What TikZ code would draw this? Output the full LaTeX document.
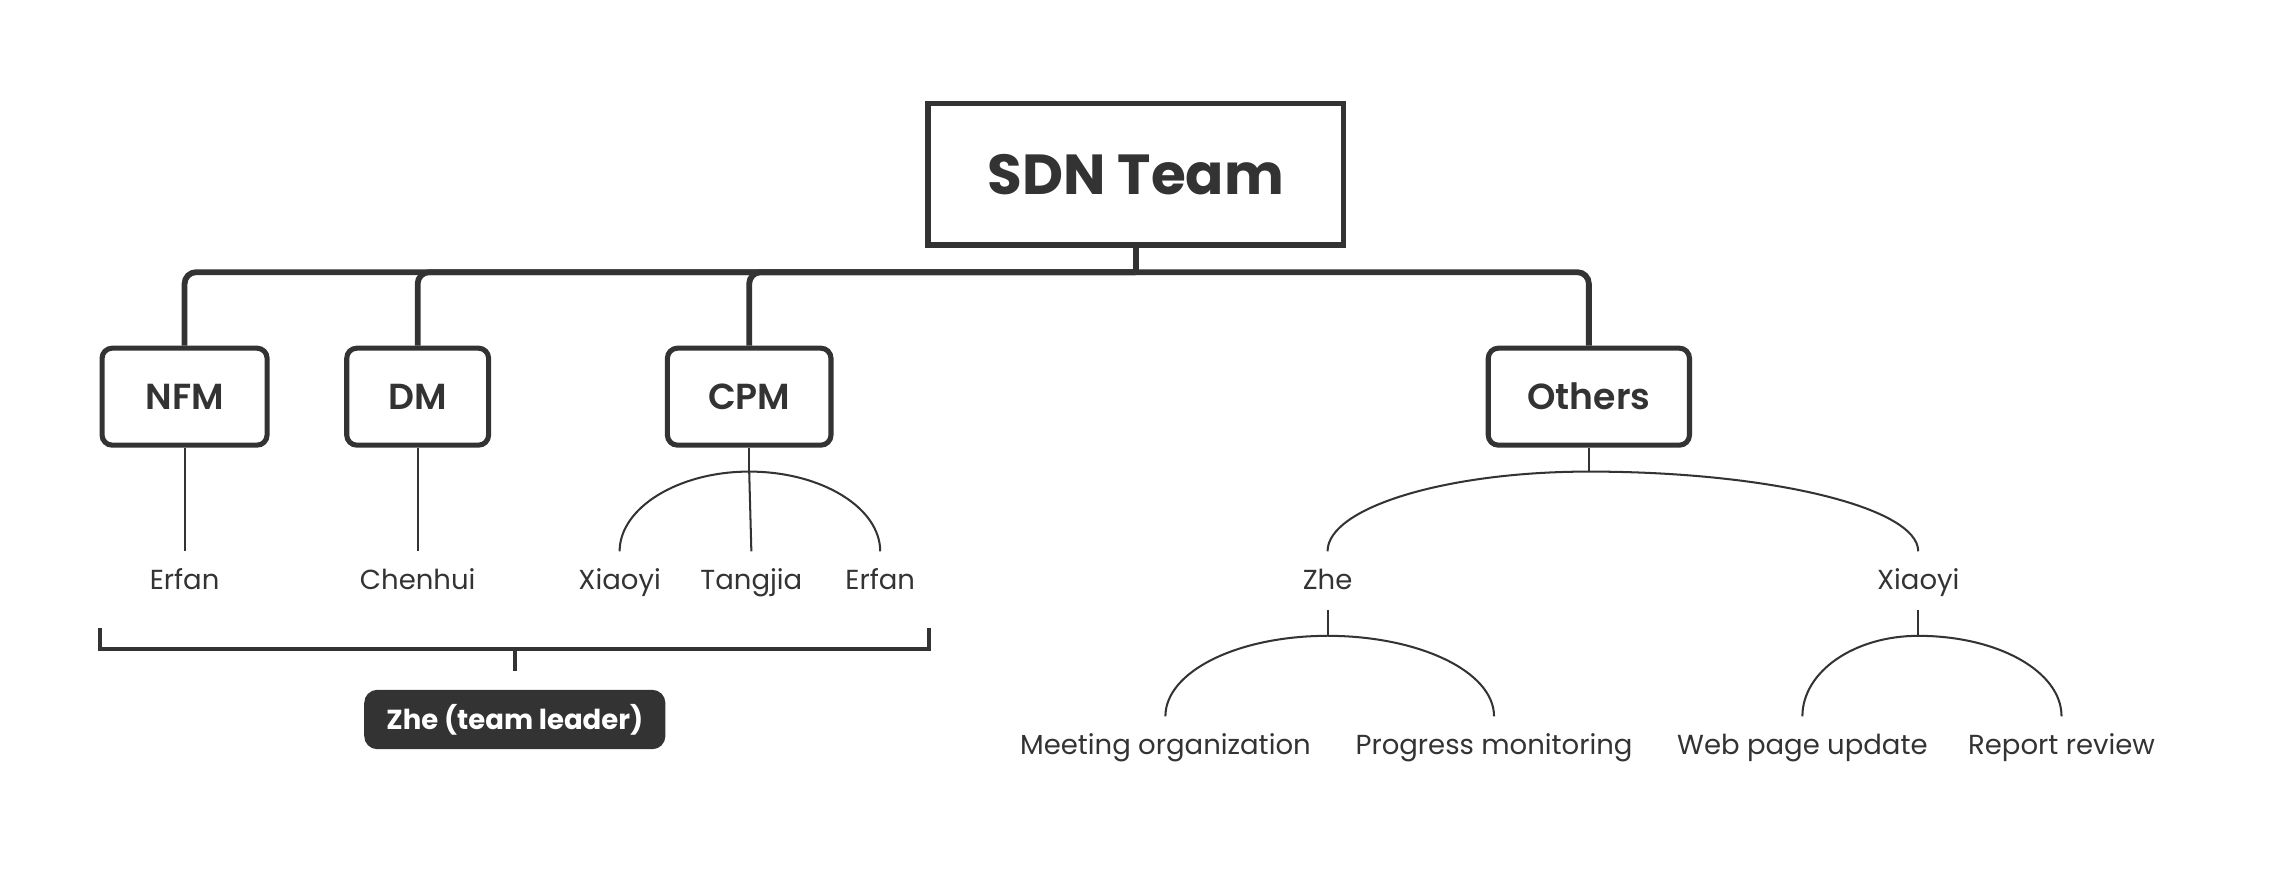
\documentclass[tikz,border=0pt]{standalone}
\usepackage{fontspec}
\setmainfont{Poppins}
\newfontfamily\boxfont{Poppins SemiBold}
\newfontfamily\headfont{Poppins Bold}
\usepackage{tikz}
\definecolor{ink}{HTML}{333333}
\tikzstyle{root} = [draw=ink,line width=4pt,minimum width=287pt,minimum height=98pt,text=ink,font=\headfont\fontsize{39}{39}\selectfont]
\tikzstyle{group} = [draw=ink,line width=3.5pt,rounded corners=7pt,minimum height=67pt,text=ink,font=\boxfont\fontsize{25}{25}\selectfont]
\tikzstyle{member} = [inner sep=0pt,text height=26pt,text depth=14pt,text=ink,font=\fontsize{19}{19}\selectfont,anchor=base]
\tikzstyle{leader} = [fill=ink,rounded corners=9pt,minimum width=208pt,minimum height=41pt,text=white,font=\headfont\fontsize{19}{19}\selectfont]
\tikzstyle{bus} = [draw=ink,line width=4pt,rounded corners=8pt]
\tikzstyle{link} = [draw=ink,line width=1.4pt]
\tikzstyle{bracket} = [draw=ink,line width=2.8pt]

\begin{document}
\begin{tikzpicture}[x=1pt,y=-1pt]
	\useasboundingbox (0,0) rectangle (1568,603.7);

	%Nodes
	\node[root] (team) at (784.5,120.5) {SDN Team};
	\node[group,minimum width=114pt] (nfm) at (127.5,274) {NFM};
	\node[group,minimum width=98pt] (dm) at (288.5,274) {DM};
	\node[group,minimum width=113pt] (cpm) at (517.5,274) {CPM};
	\node[group,minimum width=139pt] (others) at (1097.5,274) {Others};

	\node[member] (erfanA) at (127.5,407) {Erfan};
	\node[member] (chenhui) at (288.5,407) {Chenhui};
	\node[member] (xiaoyiA) at (428,407) {Xiaoyi};
	\node[member] (tangjia) at (519,407) {Tangjia};
	\node[member] (erfanB) at (608,407) {Erfan};
	\node[member] (zhe) at (917,407) {Zhe};
	\node[member] (xiaoyiB) at (1325,407) {Xiaoyi};
	\node[member] (meeting) at (805,521) {Meeting organization};
	\node[member] (progress) at (1032,521) {Progress monitoring};
	\node[member] (webpage) at (1245,521) {Web page update};
	\node[member] (report) at (1424,521) {Report review};

	\node[leader] (lead) at (355.6,497) {Zhe (team leader)};

	%Lines
	\coordinate (split) at (784.5,188);
	\draw[bus] (team.south) -- (split);
	\draw[bus] (split) -| (nfm.north);
	\draw[bus] (split) -| (dm.north);
	\draw[bus] (split) -| (cpm.north);
	\draw[bus] (split) -| (others.north);

	\draw[link] (nfm.south) -- (erfanA.north);
	\draw[link] (dm.south) -- (chenhui.north);

	\draw[link] (cpm.south) -- ++(0,16.5) coordinate (cpmsplit);
	\draw[link] (cpmsplit) .. controls +(-49,0) and +(0,-30) .. (xiaoyiA.north);
	\draw[link] (cpmsplit) -- (tangjia.north);
	\draw[link] (cpmsplit) .. controls +(50,0) and +(0,-30) .. (erfanB.north);

	\draw[link] (others.south) -- ++(0,16.5) coordinate (othsplit);
	\draw[link] (othsplit) .. controls +(-99,0) and +(0,-30) .. (zhe.north);
	\draw[link] (othsplit) .. controls +(126,0) and +(0,-30) .. (xiaoyiB.north);

	\draw[link] (zhe.south) -- ++(0,18) coordinate (zhesplit);
	\draw[link] (zhesplit) .. controls +(-62,0) and +(0,-31) .. (meeting.north);
	\draw[link] (zhesplit) .. controls +(63,0) and +(0,-31) .. (progress.north);

	\draw[link] (xiaoyiB.south) -- ++(0,18) coordinate (xysplit);
	\draw[link] (xysplit) .. controls +(-44,0) and +(0,-31) .. (webpage.north);
	\draw[link] (xysplit) .. controls +(55,0) and +(0,-31) .. (report.north);

	%Bracket
	\coordinate (brleft) at (69,434);
	\coordinate (brright) at (642,434);
	\coordinate (brmid) at (355.6,448.5);
	\draw[bracket] (brleft) |- (brright |- brmid) -- (brright);
	\draw[bracket] (brmid) -- ++(0,15) coordinate (brtip);
\end{tikzpicture}
\end{document}
